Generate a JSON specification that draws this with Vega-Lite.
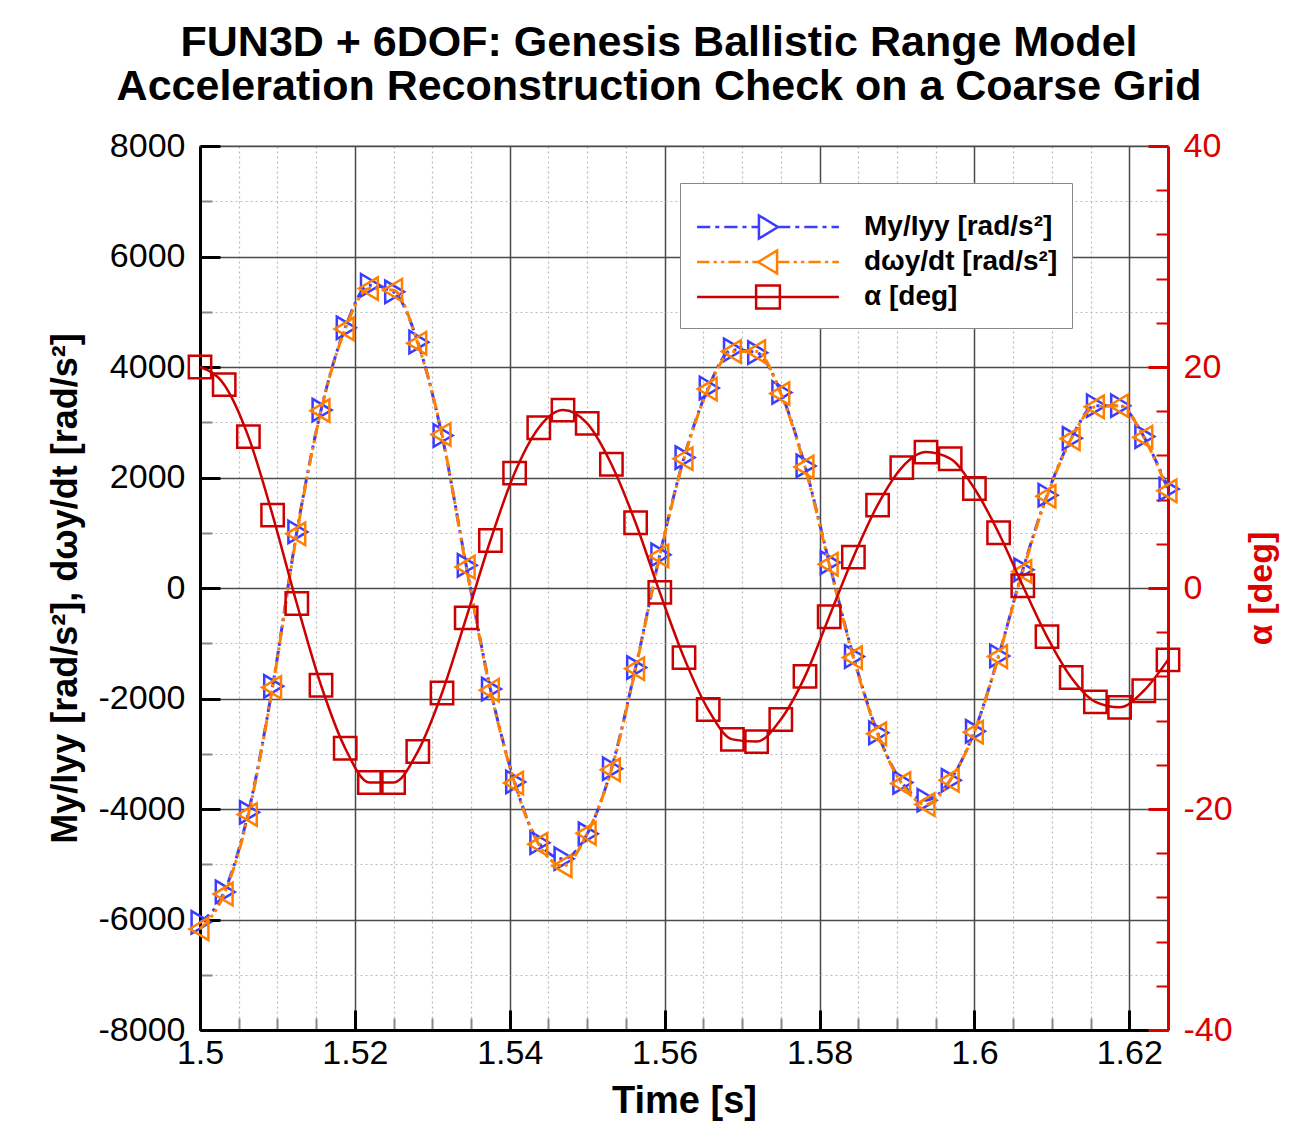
{
  "$schema": "https://vega.github.io/schema/vega-lite/v6.json",
  "autosize": {"type": "none"},
  "padding": {"left": 200, "top": 146, "right": 138, "bottom": 112},
  "width": 968,
  "height": 884,
  "background": "white",
  "title": {
    "text": ["FUN3D + 6DOF: Genesis Ballistic Range Model", "Acceleration Reconstruction Check on a Coarse Grid"],
    "font": "Liberation Sans",
    "fontSize": 43,
    "fontWeight": "bold",
    "lineHeight": 44,
    "anchor": "middle",
    "dx": -25,
    "offset": 20,
    "color": "black"
  },
  "datasets": {
    "series": [
      {"s": "My/Iyy [rad/s²]"},
      {"s": "dωy/dt [rad/s²]"},
      {"s": "α [deg]"}
    ],
    "acc": [
      {"t": 1.5, "my": -6050, "dw": -6170, "alpha": 20.0},
      {"t": 1.503125, "my": -5500, "dw": -5540, "alpha": 18.4},
      {"t": 1.50625, "my": -4060, "dw": -4100, "alpha": 13.7},
      {"t": 1.509375, "my": -1780, "dw": -1800, "alpha": 6.6},
      {"t": 1.5125, "my": 1015, "dw": 980, "alpha": -1.4},
      {"t": 1.515625, "my": 3220, "dw": 3210, "alpha": -8.8},
      {"t": 1.51875, "my": 4710, "dw": 4690, "alpha": -14.5},
      {"t": 1.521875, "my": 5480, "dw": 5420, "alpha": -17.6},
      {"t": 1.525, "my": 5360, "dw": 5390, "alpha": -17.6},
      {"t": 1.528125, "my": 4450, "dw": 4430, "alpha": -14.8},
      {"t": 1.53125, "my": 2760, "dw": 2780, "alpha": -9.5},
      {"t": 1.534375, "my": 410, "dw": 380, "alpha": -2.7},
      {"t": 1.5375, "my": -1830, "dw": -1850, "alpha": 4.3},
      {"t": 1.540625, "my": -3510, "dw": -3530, "alpha": 10.4},
      {"t": 1.54375, "my": -4610, "dw": -4640, "alpha": 14.5},
      {"t": 1.546875, "my": -4900, "dw": -5030, "alpha": 16.1},
      {"t": 1.55, "my": -4450, "dw": -4440, "alpha": 14.9},
      {"t": 1.553125, "my": -3270, "dw": -3290, "alpha": 11.2},
      {"t": 1.55625, "my": -1440, "dw": -1460, "alpha": 5.9},
      {"t": 1.559375, "my": 600, "dw": 580, "alpha": -0.4},
      {"t": 1.5625, "my": 2360, "dw": 2340, "alpha": -6.3},
      {"t": 1.565625, "my": 3620, "dw": 3600, "alpha": -11.0},
      {"t": 1.56875, "my": 4310, "dw": 4280, "alpha": -13.7},
      {"t": 1.571875, "my": 4260, "dw": 4280, "alpha": -13.9},
      {"t": 1.575, "my": 3540, "dw": 3520, "alpha": -11.9},
      {"t": 1.578125, "my": 2210, "dw": 2190, "alpha": -8.0},
      {"t": 1.58125, "my": 460, "dw": 430, "alpha": -2.6},
      {"t": 1.584375, "my": -1240, "dw": -1260, "alpha": 2.8},
      {"t": 1.5875, "my": -2620, "dw": -2640, "alpha": 7.5},
      {"t": 1.590625, "my": -3520, "dw": -3540, "alpha": 10.9},
      {"t": 1.59375, "my": -3840, "dw": -3920, "alpha": 12.3},
      {"t": 1.596875, "my": -3480, "dw": -3480, "alpha": 11.7},
      {"t": 1.6, "my": -2595, "dw": -2610, "alpha": 9.0},
      {"t": 1.603125, "my": -1230, "dw": -1240, "alpha": 5.0},
      {"t": 1.60625, "my": 330, "dw": 300, "alpha": 0.2},
      {"t": 1.609375, "my": 1680, "dw": 1660, "alpha": -4.4},
      {"t": 1.6125, "my": 2710, "dw": 2700, "alpha": -8.1},
      {"t": 1.615625, "my": 3300, "dw": 3280, "alpha": -10.3},
      {"t": 1.61875, "my": 3300, "dw": 3300, "alpha": -10.8},
      {"t": 1.621875, "my": 2740, "dw": 2730, "alpha": -9.3},
      {"t": 1.625, "my": 1790, "dw": 1760, "alpha": -6.5}
    ]
  },
  "data": {"name": "acc"},
  "encoding": {
    "x": {
      "field": "t",
      "type": "quantitative",
      "scale": {"domain": [1.5, 1.625], "nice": false, "zero": false},
      "axis": {
        "title": "Time [s]",
        "titleFont": "Liberation Sans",
        "titleFontSize": 38,
        "titleFontWeight": "bold",
        "titleColor": "black",
        "titlePadding": 4,
        "values": [1.5, 1.505, 1.51, 1.515, 1.52, 1.525, 1.53, 1.535, 1.54, 1.545, 1.55, 1.555, 1.56, 1.565, 1.57, 1.575, 1.58, 1.585, 1.59, 1.595, 1.6, 1.605, 1.61, 1.615, 1.62, 1.625],
        "labelExpr": "abs(datum.value*50 - round(datum.value*50)) < 0.000001 ? '' + datum.value : ''",
        "labelFont": "Liberation Sans",
        "labelFontSize": 34,
        "labelColor": "black",
        "labelFlush": false,
        "labelOverlap": false,
        "labelPadding": 26,
        "domainColor": "black",
        "domainWidth": 3,
        "grid": true,
        "gridColor": {"condition": {"test": "abs(datum.value*50 - round(datum.value*50)) < 0.000001", "value": "#4a4a4a"}, "value": "#bbbbbb"},
        "gridWidth": {"condition": {"test": "abs(datum.value*50 - round(datum.value*50)) < 0.000001", "value": 1.5}, "value": 1.2},
        "gridDash": {"condition": {"test": "abs(datum.value*50 - round(datum.value*50)) < 0.000001", "value": [1, 0]}, "value": [2, 3]},
        "tickColor": {"condition": {"test": "abs(datum.value*50 - round(datum.value*50)) < 0.000001", "value": "black"}, "value": "#888888"},
        "tickWidth": {"condition": {"test": "abs(datum.value*50 - round(datum.value*50)) < 0.000001", "value": 3}, "value": 2},
        "tickSize": {"condition": {"test": "abs(datum.value*50 - round(datum.value*50)) < 0.000001", "value": -20}, "value": -12}
      }
    }
  },
  "layer": [
    {
      "layer": [
        {
          "mark": {"type": "line", "color": "#3c3cff", "strokeWidth": 3, "strokeDash": [12, 5, 3, 5], "interpolate": "monotone", "clip": false},
          "encoding": {
            "y": {
              "field": "my",
              "type": "quantitative",
              "scale": {"domain": [-8000, 8000], "nice": false, "zero": false},
              "axis": {
                "orient": "left",
                "title": "My/Iyy [rad/s²], dωy/dt [rad/s²]",
                "titleFont": "Liberation Sans",
                "titleFontSize": 36,
                "titleFontWeight": "bold",
                "titleColor": "black",
                "titlePadding": 14,
                "values": [-8000, -7500, -7000, -6500, -6000, -5500, -5000, -4500, -4000, -3500, -3000, -2500, -2000, -1500, -1000, -500, 0, 500, 1000, 1500, 2000, 2500, 3000, 3500, 4000, 4500, 5000, 5500, 6000, 6500, 7000, 7500, 8000],
                "labelExpr": "datum.value % 2000 == 0 ? '' + datum.value : ''",
                "labelFont": "Liberation Sans",
                "labelFontSize": 34,
                "labelColor": "black",
                "labelFlush": false,
                "labelOverlap": false,
                "labelPadding": 35,
                "domainColor": "black",
                "domainWidth": 3,
                "grid": true,
                "gridColor": {"condition": {"test": "datum.value % 2000 == 0", "value": "#4a4a4a"}, "value": "#bbbbbb"},
                "gridWidth": {"condition": {"test": "datum.value % 2000 == 0", "value": 1.5}, "value": 1.2},
                "gridDash": {"condition": {"test": "datum.value % 2000 == 0", "value": [1, 0]}, "value": [2, 3]},
                "tickColor": {"condition": {"test": "datum.value % 2000 == 0", "value": "black"}, "value": "#888888"},
                "tickWidth": {"condition": {"test": "datum.value % 2000 == 0", "value": 3}, "value": 2},
                "tickSize": {"condition": {"test": "datum.value % 2000 == 0", "value": -20}, "value": -12}
              }
            }
          }
        },
        {
          "mark": {"type": "point", "shape": "M-0.6,-0.8L0.75,0L-0.6,0.8Z", "size": 784, "filled": false, "color": "#3c3cff", "strokeWidth": 2.5, "opacity": 1, "clip": false},
          "encoding": {"y": {"field": "my", "type": "quantitative", "title": "My/Iyy [rad/s²], dωy/dt [rad/s²]"}}
        },
        {
          "mark": {"type": "line", "color": "#ff8000", "strokeWidth": 3, "strokeDash": [12, 4, 3, 4, 3, 4], "interpolate": "monotone", "clip": false},
          "encoding": {"y": {"field": "dw", "type": "quantitative", "title": "My/Iyy [rad/s²], dωy/dt [rad/s²]"}}
        },
        {
          "mark": {"type": "point", "shape": "M0.6,-0.8L-0.75,0L0.6,0.8Z", "size": 784, "filled": false, "color": "#ff8000", "strokeWidth": 2.5, "opacity": 1, "clip": false},
          "encoding": {"y": {"field": "dw", "type": "quantitative", "title": "My/Iyy [rad/s²], dωy/dt [rad/s²]"}}
        },
        {
          "data": {"name": "series"},
          "mark": {"type": "point", "filled": false, "opacity": 0},
          "encoding": {
            "color": {
              "field": "s",
              "type": "nominal",
              "scale": {"domain": ["My/Iyy [rad/s²]", "dωy/dt [rad/s²]", "α [deg]"], "range": ["#3c3cff", "#ff8000", "#cc0000"]},
              "legend": {
                "title": " ",
                "titleFontSize": 8,
                "titlePadding": 4,
                "orient": "none",
                "legendX": 480,
                "legendY": 37,
                "fillColor": "white",
                "strokeColor": "#888888",
                "padding": 14,
                "symbolSize": 1089,
                "symbolStrokeWidth": 2.5,
                "symbolOpacity": 1,
                "symbolOffset": 56,
                "labelOffset": 78,
                "labelFont": "Liberation Sans",
                "labelFontSize": 28,
                "labelFontWeight": "bold",
                "labelColor": "black",
                "labelLimit": 400,
                "rowPadding": 0
              }
            },
            "shape": {
              "field": "s",
              "type": "nominal",
              "scale": {
                "domain": ["My/Iyy [rad/s²]", "dωy/dt [rad/s²]", "α [deg]"],
                "range": [
                  "M-4.3,0H-3.5M-3.2,0H-2.95M-2.65,0H-1.85M-1.55,0H-1.3M-1,0H-0.55M-0.55,-0.7L0.6,0L-0.55,0.7ZM0.6,0H1.35M1.65,0H1.9M2.2,0H3M3.3,0H3.55M3.85,0H4.3",
                  "M-4.3,0H-3.55M-3.3,0H-3.1M-2.85,0H-2.65M-2.4,0H-1.65M-1.4,0H-1.2M-0.95,0H-0.6M0.55,-0.7L-0.6,0L0.55,0.7ZM0.55,0H1.3M1.55,0H1.75M2,0H2.2M2.45,0H3.2M3.45,0H3.65M3.9,0H4.3",
                  "M-4.3,0H4.3M-0.72,-0.7H0.72V0.7H-0.72Z"
                ]
              }
            }
          }
        }
      ]
    },
    {
      "layer": [
        {
          "mark": {"type": "line", "color": "#cc0000", "strokeWidth": 2.5, "interpolate": "monotone", "clip": false},
          "encoding": {
            "y": {
              "field": "alpha",
              "type": "quantitative",
              "scale": {"domain": [-40, 40], "nice": false, "zero": false},
              "axis": {
                "orient": "right",
                "title": "α [deg]",
                "titleFont": "Liberation Sans",
                "titleFontSize": 34,
                "titleFontWeight": "bold",
                "titleColor": "#dd0000",
                "titleAngle": 270,
                "titlePadding": 46,
                "values": [-40, -38, -36, -34, -32, -30, -28, -26, -24, -22, -20, -18, -16, -14, -12, -10, -8, -6, -4, -2, 0, 2, 4, 6, 8, 10, 12, 14, 16, 18, 20, 22, 24, 26, 28, 30, 32, 34, 36, 38, 40],
                "labelExpr": "datum.value % 10 == 0 ? '' + datum.value : ''",
                "labelFont": "Liberation Sans",
                "labelFontSize": 34,
                "labelColor": "#dd0000",
                "labelFlush": false,
                "labelOverlap": false,
                "labelPadding": 35,
                "domainColor": "#dd0000",
                "domainWidth": 3,
                "grid": false,
                "tickColor": "#dd0000",
                "tickWidth": {"condition": {"test": "datum.value % 10 == 0", "value": 3}, "value": 2},
                "tickSize": {"condition": {"test": "datum.value % 10 == 0", "value": -20}, "value": -12}
              }
            }
          }
        },
        {
          "mark": {"type": "point", "shape": "square", "size": 500, "filled": false, "color": "#cc0000", "strokeWidth": 2.5, "opacity": 1, "clip": false},
          "encoding": {"y": {"field": "alpha", "type": "quantitative", "title": "α [deg]"}}
        }
      ]
    }
  ],
  "resolve": {"scale": {"y": "independent"}},
  "config": {
    "view": {"stroke": "#aaaaaa", "strokeWidth": 1.5}
  }
}
